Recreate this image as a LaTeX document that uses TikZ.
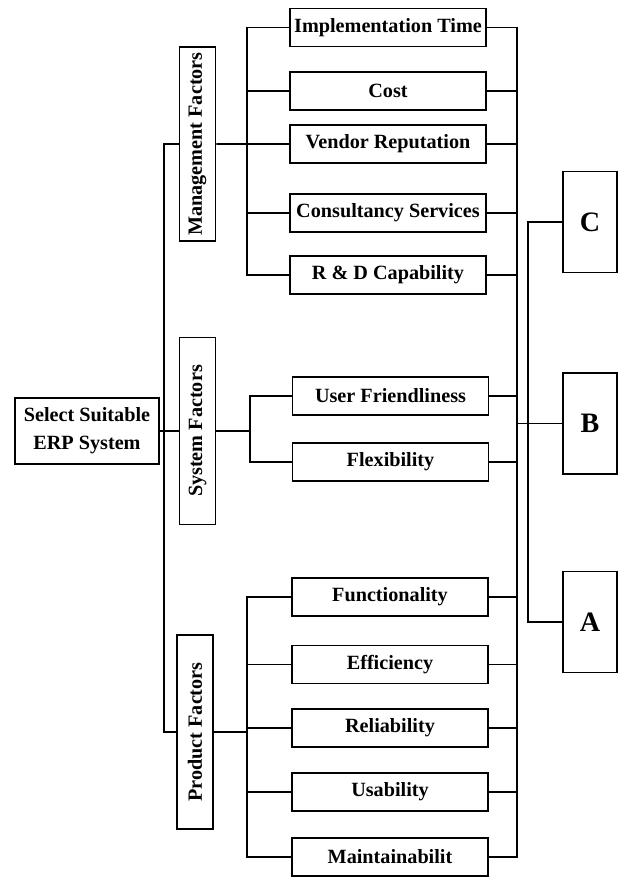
\documentclass[tikz,border=0pt]{standalone}
\usepackage{fontspec}
\setmainfont{Liberation Serif}
\usetikzlibrary{positioning}
\tikzset{edge/.style={line width=1.1pt},
  crit node/.style={draw,rectangle,line width=1.1pt,minimum width=3.92cm,minimum height=0.76cm,inner sep=0pt,font=\bfseries\fontsize{11.5}{16}\selectfont},
  group node/.style={draw,rectangle,line width=1.1pt,minimum width=0.72cm,inner sep=0pt,font=\bfseries\fontsize{11.5}{16}\selectfont},
  root node/.style={draw,rectangle,line width=1.1pt,minimum width=2.88cm,minimum height=1.32cm,inner sep=0pt,align=center,font=\bfseries\fontsize{11.5}{16}\selectfont},
  alt node/.style={draw,rectangle,line width=1.1pt,minimum width=1.08cm,minimum height=2.02cm,inner sep=0pt,font=\bfseries\fontsize{16}{18}\selectfont}}

\begin{document}
\begin{tikzpicture}[x=0.02cm,y=-0.02cm,line width=1.1pt]
    \useasboundingbox (0,0) rectangle (619,877);
    % goal and factor groups
    \node[root node] (erp) at (87,431) {Select Suitable\\ERP System};
    \node[group node, minimum height=3.88cm] (mgmt) at (197.5,144) {\rotatebox{90}{Management Factors}};
    \node[group node, minimum height=3.74cm] (sys) at (197.5,431) {\rotatebox{90}{System Factors}};
    \node[group node, minimum height=3.88cm] (prod) at (195,732) {\rotatebox{90}{Product Factors}};
    % criteria
    \node[crit node] (impl) at (388,27.5) {Implementation Time};
    \node[crit node, on grid] (cost) [below = 1.27cm of impl] {Cost};
    \node[crit node, on grid] (vendor) [below = 1.06cm of cost] {Vendor Reputation};
    \node[crit node, on grid] (consult) [below = 1.38cm of vendor] {Consultancy Services};
    \node[crit node, on grid] (rnd) [below = 1.24cm of consult] {R \& D Capability};
    \node[crit node] (user) at (390.5,396) {User Friendliness};
    \node[crit node, on grid] (flex) [below = 1.32cm of user] {Flexibility};
    \node[crit node] (func) at (390,597) {Functionality};
    \node[crit node, on grid] (eff) [below = 1.35cm of func] {Efficiency};
    \node[crit node, on grid] (rel) [below = 1.27cm of eff] {Reliability};
    \node[crit node, on grid] (usab) [below = 1.28cm of rel] {Usability};
    \node[crit node, on grid] (maint) [below = 1.3cm of usab] {Maintainabilit};
    % alternatives
    \node[alt node] (altC) at (590,222) {C};
    \node[alt node] (altB) at (590,423.5) {B};
    \node[alt node] (altA) at (590,622) {A};
    % spines
    \coordinate (lx) at (164,0);
    \coordinate (mx) at (247,0);
    \coordinate (sx) at (250,0);
    \coordinate (px) at (247,0);
    \coordinate (rx) at (517,0);
    \coordinate (ax) at (528,0);
    \draw[edge] (erp) -- (sys);
    \draw[edge] (mgmt.west) -- (mgmt.west -| lx) -- (prod.west -| lx) -- (prod.west);
    \draw[edge] (mgmt) -- (vendor);
    \draw[edge] (impl.west) -- (impl.west -| mx) -- (rnd.west -| mx) -- (rnd.west);
    \foreach \n in {cost,consult} \draw[edge] (\n.west) -- (\n.west -| mx);
    \draw[edge] (sys.east) -- (sys.east -| sx);
    \draw[edge] (user.west) -- (user.west -| sx) -- (flex.west -| sx) -- (flex.west);
    \draw[edge] (prod.east) -- (prod.east -| px);
    \draw[edge] (func.west) -- (func.west -| px) -- (maint.west -| px) -- (maint.west);
    \foreach \n in {eff,rel,usab} \draw[edge] (\n.west) -- (\n.west -| px);
    \draw[edge] (impl.east) -- (impl.east -| rx) -- (maint.east -| rx) -- (maint.east);
    \foreach \n in {cost,vendor,consult,rnd,user,flex,func,eff,rel,usab} \draw[edge] (\n.east) -- (\n.east -| rx);
    \draw[edge] (altC.west) -- (altC.west -| ax) -- (altA.west -| ax) -- (altA.west);
    \draw[edge] (altB.west) -- (altB.west -| rx);
\end{tikzpicture}
\end{document}
